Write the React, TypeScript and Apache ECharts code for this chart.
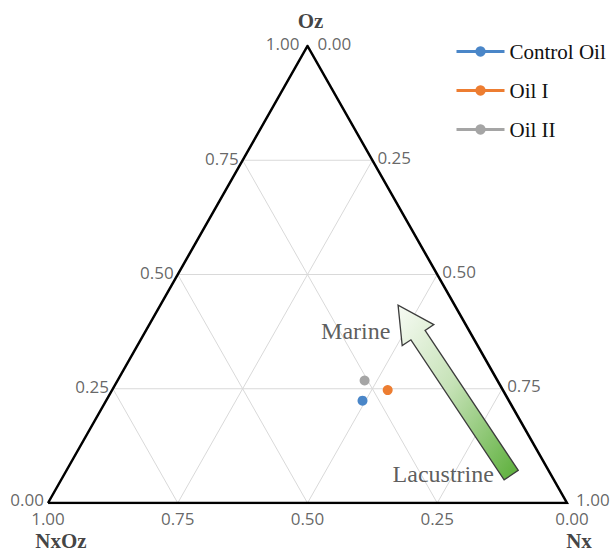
import React, { useEffect, useRef } from "react";
import * as echarts from "echarts";

// ---- data (ternary fractions: Nx, Oz, NxOz) ----
const seriesNames = ["Control Oil", "Oil I", "Oil II"];
const nxValues = [0.494, 0.531, 0.476];
const ozValues = [0.224, 0.247, 0.268];
const nxozValues = [0.282, 0.222, 0.256];
const seriesColors = ["#4A86C8", "#ED7D31", "#A5A5A5"];

const tickValues = [0, 0.25, 0.5, 0.75, 1];
const tickLabels = ["0.00", "0.25", "0.50", "0.75", "1.00"];
const gridValues = [0.25, 0.5, 0.75];

const axisTitles = ["Oz", "NxOz", "Nx"];

// arrow (ternary Nx, Oz) from Lacustrine (tail) to Marine (tip)
const arrowTip = { nx: 0.458, oz: 0.433 };
const arrowTail = { nx: 0.862, oz: 0.061 };
const annotationNames = ["Marine", "Lacustrine"];
const annotationNx = [0.405, 0.73];
const annotationOz = [0.376, 0.063];

// ternary -> cartesian (X in 0..1 across base, Y = Oz in 0..1 up)
const toXY = (nx: number, oz: number, nxoz?: number): [number, number] => {
  let a = nx, b = oz;
  if (nxoz !== undefined) {
    const s = nx + oz + nxoz;
    a = nx / s;
    b = oz / s;
  }
  return [a + b / 2, b];
};

export default function App() {
  const ref = useRef<HTMLDivElement>(null);

  useEffect(() => {
    if (!ref.current) return;
    const chart = echarts.init(ref.current, undefined, { renderer: "svg" });

    const series: any[] = [];

    // grid lines
    const gridLine = (data: [number, number][]) => ({
      type: "line",
      data,
      symbol: "none",
      silent: true,
      lineStyle: { color: "#d9d9d9", width: 1 },
      z: 1,
    });
    gridValues.forEach((c) => {
      series.push(gridLine([toXY(0, c), toXY(1 - c, c)])); // Oz const
      series.push(gridLine([toXY(c, 0), toXY(c, 1 - c)])); // Nx const
      series.push(gridLine([toXY(1 - c, 0), toXY(0, 1 - c)])); // NxOz const
    });

    // triangle
    series.push({
      type: "line",
      data: [toXY(0, 0), toXY(1, 0), toXY(0, 1), toXY(0, 0)],
      symbol: "none",
      silent: true,
      lineStyle: { color: "#000", width: 2.5, join: "miter" },
      z: 3,
    });

    const tickFont = { fontFamily: "Open Sans", fontSize: 17, lineHeight: 17, color: "#404040" };
    const last = tickValues.length - 1;

    // left axis (Oz) labels
    series.push({
      type: "scatter",
      silent: true,
      symbolSize: 0,
      data: tickValues.map((t, i) => ({
        value: toXY(0, t),
        name: tickLabels[i],
        label: i === last ? { distance: 8, offset: [0, -3] } : i === 0 ? { offset: [0, -4] } : {},
      })),
      label: { show: true, position: "left", distance: 4, offset: [0, -2], formatter: "{b}", ...tickFont },
      z: 4,
    });
    // right axis (Nx) labels
    series.push({
      type: "scatter",
      silent: true,
      symbolSize: 0,
      data: tickValues.map((t, i) => ({
        value: toXY(t, 1 - t),
        name: tickLabels[i],
        label: i === 0 ? { distance: 10, offset: [0, -3] } : i === last ? { distance: 9, offset: [0, -4] } : {},
      })),
      label: { show: true, position: "right", distance: 5, offset: [0, -3], formatter: "{b}", ...tickFont },
      z: 4,
    });
    // bottom axis (NxOz) labels
    series.push({
      type: "scatter",
      silent: true,
      symbolSize: 0,
      data: tickValues.map((t, i) => ({
        value: toXY(1 - t, 0),
        name: tickLabels[i],
        label: i === 0 ? { offset: [5, 0] } : {},
      })),
      label: { show: true, position: "bottom", distance: 7, formatter: "{b}", ...tickFont },
      z: 4,
    });

    // axis titles
    const titleFont = { fontFamily: "Liberation Serif", fontSize: 21, lineHeight: 19, fontWeight: "bold", color: "#111" };
    series.push({
      type: "scatter",
      silent: true,
      symbolSize: 0,
      data: [
        { value: toXY(0, 1), name: axisTitles[0], label: { position: "top", distance: 16, offset: [3, 0] } },
        { value: toXY(0, 0), name: axisTitles[1], label: { position: "bottom", distance: 28, offset: [13, 0] } },
        { value: toXY(1, 0), name: axisTitles[2], label: { position: "bottom", distance: 28, offset: [12, 0] } },
      ],
      label: { show: true, formatter: "{b}", ...titleFont },
      z: 4,
    });

    // arrow
    series.push({
      type: "custom",
      silent: true,
      data: [[...toXY(arrowTip.nx, arrowTip.oz), ...toXY(arrowTail.nx, arrowTail.oz)]],
      encode: { x: [0, 2], y: [1, 3] },
      renderItem: (params: any, api: any) => {
        const T = api.coord([api.value(0), api.value(1)]);
        const C = api.coord([api.value(2), api.value(3)]);
        const dx = C[0] - T[0], dy = C[1] - T[1];
        const len = Math.hypot(dx, dy);
        const u = [dx / len, dy / len];
        const n = [-u[1], u[0]];
        const headLen = 36, headHalf = 19, shaftHalf = 8.5;
        const B = [T[0] + u[0] * headLen, T[1] + u[1] * headLen];
        const p = (o: number[], k: number) => [o[0] + n[0] * k, o[1] + n[1] * k];
        const pts = [T, p(B, headHalf), p(B, shaftHalf), p(C, shaftHalf), p(C, -shaftHalf), p(B, -shaftHalf), p(B, -headHalf)];
        return {
          type: "polygon",
          shape: { points: pts },
          style: {
            fill: new echarts.graphic.LinearGradient(0, 0, 1, 1, [
              { offset: 0, color: "#f7fbf4" },
              { offset: 0.45, color: "#c6e2b7" },
              { offset: 1, color: "#5aae38" },
            ]),
            stroke: "#3c3c3c",
            lineWidth: 1.3,
          },
        };
      },
      z: 5,
    });

    // annotation texts
    series.push({
      type: "scatter",
      silent: true,
      symbolSize: 0,
      data: annotationNames.map((nm, i) => ({ value: toXY(annotationNx[i], annotationOz[i]), name: nm })),
      label: { show: true, position: "inside", formatter: "{b}", fontFamily: "Liberation Serif", fontSize: 24, color: "#333" },
      z: 6,
    });

    // data series
    seriesNames.forEach((nm, i) => {
      series.push({
        type: "line",
        name: nm,
        data: [toXY(nxValues[i], ozValues[i], nxozValues[i])],
        symbol: "circle",
        symbolSize: 10,
        itemStyle: { color: seriesColors[i] },
        lineStyle: { color: seriesColors[i], width: 3 },
        z: 7,
      });
    });

    chart.setOption({
      animation: false,
      backgroundColor: "#fff",
      grid: { left: 48, top: 46, width: 519, height: 457, containLabel: false },
      xAxis: { type: "value", min: 0, max: 1, show: false },
      yAxis: { type: "value", min: 0, max: 1, show: false },
      legend: {
        data: seriesNames,
        orient: "vertical",
        left: 450,
        top: 36,
        itemWidth: 48,
        itemHeight: 13,
        itemGap: 18,
        lineStyle: { width: 3 },
        textStyle: { fontFamily: "Liberation Serif", fontSize: 21, color: "#111" },
      },
      series,
    });

    return () => chart.dispose();
  }, []);

  return (
    <div
      ref={ref}
      style={{ position: "fixed", left: 0, top: 0, width: 611, height: 552, background: "#fff" }}
    />
  );
}
